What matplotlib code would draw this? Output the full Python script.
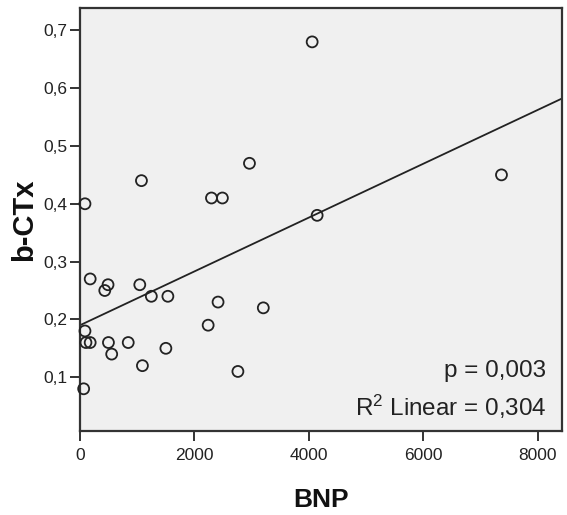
import numpy as np
import matplotlib
matplotlib.use("Agg")
import matplotlib.pyplot as plt

plt.rcParams['font.family'] = ['Liberation Sans', 'DejaVu Sans']
plt.rcParams['mathtext.fontset'] = 'custom'
plt.rcParams['mathtext.rm'] = 'Liberation Sans'
plt.rcParams['mathtext.it'] = 'Liberation Sans'

bnp = [87, 1074, 2298, 2489, 2962, 4058, 4145, 7367, 178, 490, 433, 1045, 1247,
       1536, 2413, 3204, 2240, 87, 104, 178, 497, 554, 843, 1091, 1501, 2760, 64]
ctx = [0.40, 0.44, 0.41, 0.41, 0.47, 0.68, 0.38, 0.45, 0.27, 0.26, 0.25, 0.26, 0.24,
       0.24, 0.23, 0.22, 0.19, 0.18, 0.16, 0.16, 0.16, 0.14, 0.16, 0.12, 0.15, 0.11, 0.08]
xticks = [0, 2000, 4000, 6000, 8000]
yticks = [0.1, 0.2, 0.3, 0.4, 0.5, 0.6, 0.7]
ytick_labels = ['0,1', '0,2', '0,3', '0,4', '0,5', '0,6', '0,7']
p_text = 'p = 0,003'
r2_text = 'R$^2$ Linear = 0,304'

fig = plt.figure(figsize=(5.67, 5.15), dpi=100)
ax = fig.add_axes([80/567, 1-431/515, 482/567, 423/515])
ax.set_facecolor('#f0f0f0')

xlim = (0, 8425)
ylim = (0.007, 0.7386)

x = np.array(bnp, dtype=float)
y = np.array(ctx, dtype=float)
slope, intercept = np.polyfit(x, y, 1)
xl = np.array(xlim)
ax.plot(xl, intercept + slope * xl, color='#222222', lw=1.3, zorder=2)

ax.scatter(x, y, s=62, facecolors='none', edgecolors='#222222', linewidths=1.3, zorder=3, clip_on=False)

ax.set_xlim(*xlim)
ax.set_ylim(*ylim)
ax.set_xticks(xticks)
ax.set_xticklabels([str(t) for t in xticks])
ax.set_yticks(yticks)
ax.set_yticklabels(ytick_labels)
ax.tick_params(axis='both', direction='out', length=7, width=1.4, color='#333333',
               labelsize=12.5, labelcolor='#222222')
ax.tick_params(axis='x', pad=5)
ax.tick_params(axis='y', pad=2)
for s in ax.spines.values():
    s.set_color('#333333')
    s.set_linewidth(1.6)

ax.text(0.967, 0.128, p_text, transform=ax.transAxes, ha='right', va='baseline',
        fontsize=17.5, color='#222222')
ax.text(0.967, 0.035, r2_text, transform=ax.transAxes, ha='right', va='baseline',
        fontsize=17.5, color='#222222')

fig.text(321/567, 1-507/515, 'BNP', ha='center', va='baseline', fontsize=19,
         fontweight='bold', color='#111111')
fig.text(24/567, 1-220/515, 'b-CTx', ha='center', va='center', rotation=90,
         fontsize=21, fontweight='bold', color='#111111')

fig.savefig('out.png', dpi=100, facecolor='white')
